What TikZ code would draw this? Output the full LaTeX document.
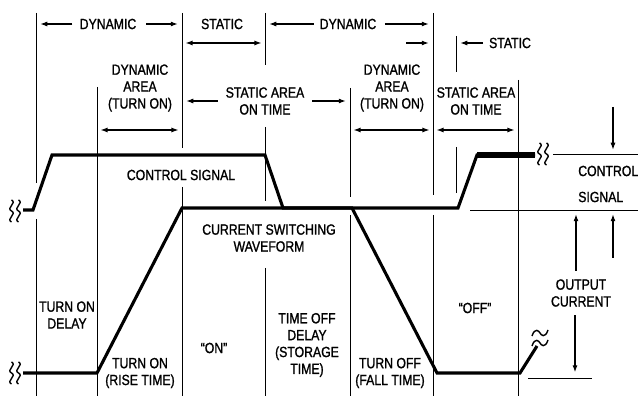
\documentclass[tikz,border=0pt]{standalone}
\usepackage{fontspec}
\setmainfont{Liberation Sans}[FakeStretch=0.83, RawFeature={embolden=1.2}]
\usepackage{tikz}
\usetikzlibrary{arrows.meta}

\begin{document}
\begin{tikzpicture}[x=0.025cm, y=-0.025cm,
  font=\fontsize{10.5}{12}\selectfont,
  lbl/.style={align=center, inner sep=0pt},
  grid/.style={line width=0.6pt},
  sig/.style={line width=2.2pt, line join=miter},
  arr/.style={line width=0.9pt, -{Latex[length=5pt,width=3.6pt]}},
  dbl/.style={line width=0.9pt, {Latex[length=5pt,width=3.6pt]}-{Latex[length=5pt,width=3.6pt]},
    shorten <=2.5pt, shorten >=2.5pt},
  squig/.pic={\foreach \dx in {-3.5,3.5}
    \draw[line width=1pt] (\dx,-11) .. controls (\dx+6,-8) and (\dx-6,-3) .. (\dx,0)
      .. controls (\dx+6,3) and (\dx-6,8) .. (\dx,11);},
  tld/.pic={\draw[line width=1pt] (-8,3) .. controls (-5,-6) and (-1,-2) .. (0,0)
      .. controls (1,2) and (5,6) .. (8,-3);}]
\useasboundingbox (0,0) rectangle (638,398);

\coordinate (v1) at (36,0);
\coordinate (v2) at (97,0);
\coordinate (v3) at (182,0);
\coordinate (v4) at (265,0);
\coordinate (v5) at (350,0);
\coordinate (v6) at (433,0);
\coordinate (v7) at (456,0);
\coordinate (v8) at (518,0);
\coordinate (r2) at (0,43);
\coordinate (r4) at (0,130);

% time marks
\draw[grid] (36,13) -- (36,183) (36,219) -- (36,396);
\draw[grid] (97,87) -- (97,396);
\draw[grid] (182,13) -- (182,148) (182,187) -- (182,396);
\draw[grid] (265,13) -- (265,65) (265,127) -- (265,201) (265,268) -- (265,396);
\draw[grid] (350,88) -- (350,197) (350,215) -- (350,396);
\draw[grid] (433,13) -- (433,195) (433,215) -- (433,396);
\draw[grid] (456,36) -- (456,72) (456,147) -- (456,193);
\draw[grid] (518,80) -- (518,396);
\draw[grid] (553,154) -- (638,154);
\draw[grid] (470,210) -- (638,210);
\draw[grid] (528,378) -- (592,378);

% waveforms
\draw[sig] (23,210) -- (33,210) -- (52,155) -- (265,155) -- (283,208) -- (458,208)
  -- (477,155) -- (535,155);
\draw[line width=4pt] (477,155) -- (535,155);
\draw[sig] (23,373) -- (97,373) -- (182,208) -- (352,208) -- (437,373) -- (520,373)
  -- (537,346);
\pic at (15,211) {squig};
\pic at (15,373) {squig};
\pic at (543,154) {squig};
\pic at (540,333) {tld};
\pic at (540,343) {tld};

% top labels
\node[lbl] (dyn1) at (108,24) {DYNAMIC};
\node[lbl] (stat1) at (222,24) {STATIC};
\node[lbl] (dyn2) at (348,24) {DYNAMIC};
\node[lbl] (stat2) at (510,43) {STATIC};
\node[lbl] (dar1) at (140,88) {DYNAMIC\\AREA\\(TURN ON)};
\node[lbl] (sar1) at (265,101) {STATIC AREA\\ON TIME};
\node[lbl] (dar2) at (392,88) {DYNAMIC\\AREA\\(TURN ON)};
\node[lbl] (sar2) at (476,101) {STATIC AREA\\ON TIME};

\draw[arr, shorten <=5pt, shorten >=3pt] (dyn1) -- (dyn1 -| v1);
\draw[arr, shorten <=7pt, shorten >=3pt] (dyn1) -- (dyn1 -| v3);
\draw[dbl] (v3 |- r2) -- (v4 |- r2);
\draw[arr, shorten <=4pt, shorten >=3pt] (dyn2) -- (dyn2 -| v4);
\draw[arr, shorten <=6pt, shorten >=3pt] (dyn2) -- (dyn2 -| v6);
\draw[arr, shorten >=3pt] (406,43) -- (v6 |- r2);
\draw[arr, shorten <=4pt, shorten >=3pt] (stat2) -- (stat2 -| v7);
\draw[dbl] (v2 |- r4) -- (v3 |- r4);
\draw[arr, shorten <=5.5pt, shorten >=3pt] (sar1) -- (sar1 -| v3);
\draw[arr, shorten <=5.5pt, shorten >=3pt] (sar1) -- (sar1 -| v5);
\draw[dbl] (v5 |- r4) -- (v6 |- r4);
\draw[dbl] (v6 |- r4) -- (v8 |- r4);

% inner labels
\node[lbl] (ctl) at (181,175) {CONTROL SIGNAL};
\node[lbl] (cur) at (269,238) {CURRENT SWITCHING\\WAVEFORM};
\node[lbl] (tod) at (67,315) {TURN ON\\DELAY};
\node[lbl] (tor) at (140,373) {TURN ON\\(RISE TIME)};
\node[lbl] (on) at (214,348) {“ON”};
\node[lbl] (tfd) at (307,345) {TIME OFF\\DELAY\\(STORAGE\\TIME)};
\node[lbl] (tof) at (390,373) {TURN OFF\\(FALL TIME)};
\node[lbl] (off) at (475,308) {“OFF”};

% right side
\node[lbl, anchor=west] (ctl2) at (578,171) {CONTROL};
\node[lbl, anchor=west] (sig2) at (578,197) {SIGNAL};
\node[lbl] (outc) at (581,293) {OUTPUT\\CURRENT};
\coordinate (cs) at (613,154);
\coordinate (oc1) at (576,210);
\coordinate (oc2) at (575,378);
\draw[arr, shorten >=3pt] (613,107) -- (cs);
\draw[arr, shorten >=3pt] (613,258) -- (cs |- oc1);
\draw[arr, shorten <=6pt, shorten >=3pt] (outc.north -| oc1) -- (oc1);
\draw[arr, shorten <=6pt, shorten >=4pt] (outc.south -| oc2) -- (oc2);
\end{tikzpicture}
\end{document}
